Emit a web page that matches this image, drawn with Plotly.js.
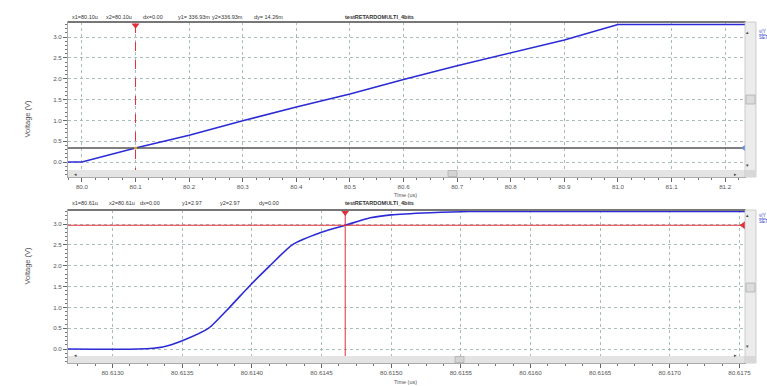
<!DOCTYPE html>
<html>
<head>
<meta charset="utf-8">
<script src="https://cdn.plot.ly/plotly-3.0.1.min.js"></script>
<style>html,body{margin:0;padding:0;background:#fff}#c{width:767px;height:386px}</style>
</head>
<body>
<div id="c"></div>
<script>
// ---- data ----
const topTime = [79.974, 80.0, 80.1, 80.2, 80.3, 80.4, 80.5, 80.6, 80.7, 80.8, 80.9, 81.0, 81.237];
const topVolt = [0.0, 0.0, 0.337, 0.64, 0.99, 1.32, 1.63, 1.98, 2.31, 2.62, 2.93, 3.30, 3.30];
const botTime = [80.61268, 80.61318, 80.61336, 80.61350, 80.61369, 80.61384, 80.61398, 80.61413, 80.61429, 80.61450, 80.61467, 80.61485, 80.61500, 80.61528, 80.61556, 80.61754];
const botVolt = [0.0, 0.0, 0.05, 0.20, 0.50, 1.00, 1.50, 2.00, 2.50, 2.80, 2.97, 3.15, 3.22, 3.27, 3.30, 3.30];
const topCursor = {x: 80.10, y: 0.33693};
const botCursor = {x: 80.61467, y: 2.97};
const topXRange = [79.974, 81.237];
const botXRange = [80.61268, 80.61754];
const yRange = [-0.36, 3.36];
const yRange2 = [-0.336, 3.336];
const topHeader = ["x1=80.10u", "x2=80.10u", "dx=0.00", "y1= 336.93m", "y2=336.93m", "dy= 14.26m"];
const botHeader = ["x1=80.61u", "x2=80.61u", "dx=0.00", "y1=2.97", "y2=2.97", "dy=0.00"];
const chartTitle = "testRETARDOMULTI_4bits";

// ---- helpers ----
const W = 767, H = 386;
const px = x => x / W, py = y => 1 - y / H;
const blue = '#2b2bd6', red = '#e0303a';

const traces = [
  {x: topTime, y: topVolt, xaxis: 'x', yaxis: 'y', mode: 'lines', line: {color: blue, width: 1.6}},
  {x: [topCursor.x, topCursor.x], y: yRange, xaxis: 'x', yaxis: 'y', mode: 'lines', line: {color: red, width: 1, dash: 'dash'}},
  {x: topXRange, y: [topCursor.y, topCursor.y], xaxis: 'x', yaxis: 'y', mode: 'lines', line: {color: '#555', width: 1.6}},
  {x: [topCursor.x], y: [yRange[1] - 0.08], xaxis: 'x', yaxis: 'y', mode: 'markers', marker: {symbol: 'triangle-down', size: 7, color: red}, cliponaxis: false},
  {x: [topXRange[1]], y: [topCursor.y], xaxis: 'x', yaxis: 'y', mode: 'markers', marker: {symbol: 'triangle-left', size: 8, color: '#6a8fd8'}, cliponaxis: false},
  {x: [topCursor.x], y: [topCursor.y], xaxis: 'x', yaxis: 'y', mode: 'markers', marker: {symbol: 'circle', size: 3, color: '#d9a040'}},
  {x: botTime, y: botVolt, xaxis: 'x2', yaxis: 'y2', mode: 'lines', line: {color: blue, width: 1.6, shape: 'spline', smoothing: 0.6}},
  {x: [botCursor.x, botCursor.x], y: yRange2, xaxis: 'x2', yaxis: 'y2', mode: 'lines', line: {color: red, width: 1}},
  {x: botXRange, y: [botCursor.y, botCursor.y], xaxis: 'x2', yaxis: 'y2', mode: 'lines', line: {color: red, width: 1}},
  {x: [botCursor.x], y: [yRange2[1] - 0.06], xaxis: 'x2', yaxis: 'y2', mode: 'markers', marker: {symbol: 'triangle-down', size: 7, color: red}, cliponaxis: false},
  {x: [botXRange[1] - 0.00001], y: [botCursor.y], xaxis: 'x2', yaxis: 'y2', mode: 'markers', marker: {symbol: 'triangle-left', size: 8, color: red}, cliponaxis: false}
];

const tickFont = {family: 'Liberation Sans, Arial, sans-serif', size: 6.2, color: '#555'};
const gridStyle = {showgrid: true, gridcolor: '#a9bdbd', griddash: 'dot', gridwidth: 1, zeroline: false,
  showline: true, linecolor: '#aaa', linewidth: 1, mirror: true, ticks: 'outside', ticklen: 4, tickcolor: '#666',
  tickfont: tickFont};

const layout = {
  width: W, height: H, margin: {l: 0, r: 0, t: 0, b: 0},
  paper_bgcolor: '#fff', plot_bgcolor: '#fff', showlegend: false,
  xaxis: Object.assign({}, gridStyle, {domain: [px(68), px(745)], range: topXRange, anchor: 'y',
    dtick: 0.1, tick0: 80.0, tickformat: '.1f', minor: {dtick: 0.025, ticks: 'outside', ticklen: 2, tickcolor: '#777', showgrid: false}}),
  yaxis: Object.assign({}, gridStyle, {domain: [py(177), py(22)], range: yRange, anchor: 'x',
    dtick: 0.5, tick0: 0, tickformat: '.1f', minor: {dtick: 0.1, ticks: 'outside', ticklen: 2, tickcolor: '#777', showgrid: false}}),
  xaxis2: Object.assign({}, gridStyle, {domain: [px(68), px(745)], range: botXRange, anchor: 'y2',
    dtick: 0.0005, tick0: 80.613, tickformat: '.4f', minor: {dtick: 0.000125, ticks: 'outside', ticklen: 2, tickcolor: '#777', showgrid: false}}),
  yaxis2: Object.assign({}, gridStyle, {domain: [py(363), py(210)], range: yRange2, anchor: 'x2',
    dtick: 0.5, tick0: 0, tickformat: '.1f', minor: {dtick: 0.1, ticks: 'outside', ticklen: 2, tickcolor: '#777', showgrid: false}}),
  shapes: [],
  annotations: []
};

const small = {family: 'Liberation Sans, Arial, sans-serif', size: 5.5, color: '#333'};
function header(items, xs, yPix) {
  items.forEach((t, i) => layout.annotations.push({text: t, x: px(xs[i]), y: py(yPix), xref: 'paper', yref: 'paper',
    xanchor: 'left', yanchor: 'middle', showarrow: false, font: small}));
  layout.annotations.push({text: '<b>' + chartTitle + '</b>', x: px(343), y: py(yPix), xref: 'paper', yref: 'paper',
    xanchor: 'left', yanchor: 'middle', showarrow: false, font: small});
}
header(topHeader, [70, 104, 141, 176, 210, 252], 17);
header(botHeader, [70, 107, 138, 180, 218, 257], 203);

[[98, 195], [287, 386]].forEach(([yc, yt], i) => {
  layout.annotations.push({text: 'Voltage (V)', x: px(20), y: py(yc), xref: 'paper', yref: 'paper', textangle: -90,
    showarrow: false, font: {family: 'Liberation Sans, Arial, sans-serif', size: 7.5, color: '#555'}});
  layout.annotations.push({text: 'Time (us)', x: px(405), y: py(yt), xref: 'paper', yref: 'paper',
    yanchor: i === 1 ? 'bottom' : 'middle', borderpad: 0,
    showarrow: false, font: {family: 'Liberation Sans, Arial, sans-serif', size: 5.5, color: '#555'}});
});

function panelDeco(top, bottom, hThumbX, vThumbY, label1, label2) {
  const S = layout.shapes;
  S.push({type: 'line', xref: 'paper', yref: 'paper', x0: px(68), x1: px(745), y0: py(top), y1: py(top), line: {color: '#777', width: 2}});
  S.push({type: 'rect', xref: 'paper', yref: 'paper', x0: px(68), x1: px(745), y0: py(bottom), y1: py(bottom - 7), fillcolor: '#e4e4e4', line: {width: 0}, layer: 'above'});
  S.push({type: 'rect', xref: 'paper', yref: 'paper', x0: px(hThumbX), x1: px(hThumbX + 9), y0: py(bottom - 0.5), y1: py(bottom - 6.5), fillcolor: '#d4d4d4', line: {color: '#aaa', width: 0.7}, layer: 'above'});
  S.push({type: 'rect', xref: 'paper', yref: 'paper', x0: px(745), x1: px(756), y0: py(bottom), y1: py(top), fillcolor: '#ececec', line: {color: '#bbb', width: 0.7}});
  S.push({type: 'rect', xref: 'paper', yref: 'paper', x0: px(746), x1: px(755), y0: py(vThumbY + 9), y1: py(vThumbY), fillcolor: '#dcdcdc', line: {color: '#aaa', width: 0.7}});
  S.push({type: 'rect', xref: 'paper', yref: 'paper', x0: px(745), x1: px(756), y0: py(bottom), y1: py(bottom - 7), fillcolor: '#d8d8d8', line: {width: 0}});
  const arr = {family: 'DejaVu Sans', size: 5, color: '#444'};
  layout.annotations.push({text: '▴', x: px(750.5), y: py(top + 5), xref: 'paper', yref: 'paper', showarrow: false, font: arr});
  layout.annotations.push({text: '▾', x: px(750.5), y: py(bottom - 12), xref: 'paper', yref: 'paper', showarrow: false, font: arr});
  layout.annotations.push({text: '◂', x: px(72), y: py(bottom - 3.5), xref: 'paper', yref: 'paper', showarrow: false, font: arr});
  layout.annotations.push({text: '▸', x: px(739), y: py(bottom - 3.5), xref: 'paper', yref: 'paper', showarrow: false, font: arr});
  const bl = {family: 'Liberation Sans, Arial, sans-serif', size: 4.5, color: '#3344cc'};
  layout.annotations.push({text: '<u>' + label1 + '</u>', x: px(757), y: py(top + 5), xref: 'paper', yref: 'paper', xanchor: 'left', showarrow: false, font: bl});
  layout.annotations.push({text: label2, x: px(757), y: py(top + 11), xref: 'paper', yref: 'paper', xanchor: 'left', showarrow: false, font: bl});
}
panelDeco(22, 177, 448, 95, 'v(Y', 'SET');
panelDeco(210, 363, 455, 283, 'v(Y', 'SET');

Plotly.newPlot('c', traces, layout, {staticPlot: true, displayModeBar: false});
</script>
</body>
</html>
